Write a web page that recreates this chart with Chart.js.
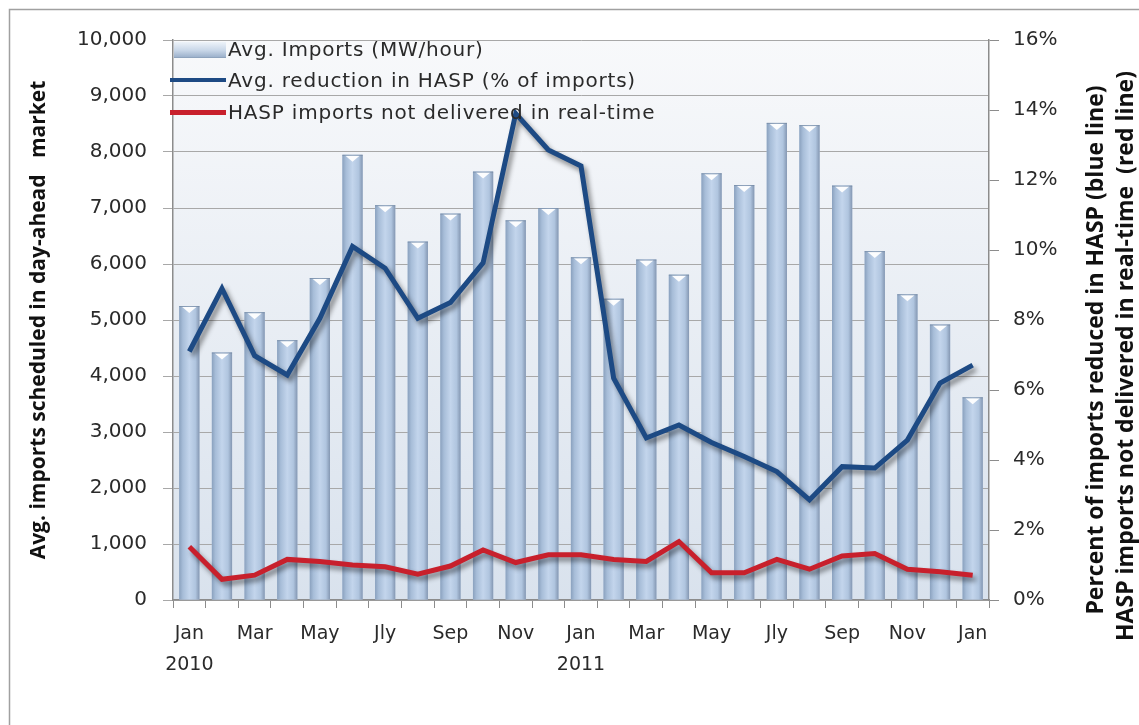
<!DOCTYPE html>
<html>
<head>
<meta charset="utf-8">
<script src="https://cdn.jsdelivr.net/npm/chart.js@4.4.1/dist/chart.umd.min.js"></script>
<style>
  html, body { margin: 0; padding: 0; background: #ffffff; }
  #wrap { position: relative; width: 1139px; height: 725px; overflow: hidden; }
  canvas { position: absolute; left: 0; top: 0; }
  .legend { position: absolute; left: 170px; top: 36px; font-family: "DejaVu Sans", sans-serif; font-size: 20px; letter-spacing: 0.8px; color: #2a2a2a; }
  .row { position: absolute; left: 0; height: 30px; white-space: nowrap; }
  .row span.txt { position: absolute; left: 58px; top: 0; line-height: 26px; }
  .sym-bar { position: absolute; left: 4px; top: 6px; width: 52px; height: 15px;
     background: linear-gradient(to bottom, #eef3f9 0%, #c9d7e8 55%, #9db2cc 100%); border-bottom: 1px solid #8ea3bd; }
  .sym-line { position: absolute; left: 0; width: 56px; height: 4px; }
  .ytitle { position: absolute; font-family: "Open Sans", sans-serif; font-weight: bold; font-size: 23px; color: #111;
     white-space: pre; transform: translate(-50%, -50%) rotate(-90deg); }
</style>
</head>
<body>
<div id="wrap">
  <canvas id="c" width="1139" height="725"></canvas>
  <div class="legend">
    <div class="row" style="top:0px"><div class="sym-bar"></div><span class="txt">Avg. Imports (MW/hour)</span></div>
    <div class="row" style="top:31px"><div class="sym-line" style="top:11px;background:#1d4a84;height:4px"></div><span class="txt">Avg. reduction in HASP (% of imports)</span></div>
    <div class="row" style="top:63px"><div class="sym-line" style="top:11px;background:#c8202c;height:5px"></div><span class="txt">HASP imports not delivered in real-time</span></div>
  </div>
  <div class="ytitle" style="left:1094px; top:350px;">Percent of imports reduced in HASP (blue line)</div>
  <div class="ytitle" style="left:1124px; top:356px;">HASP imports not delivered in real-time  (red line)</div>
</div>
<script>
// ---- Data ----
const categories = ['Jan 2010','Feb 2010','Mar 2010','Apr 2010','May 2010','Jun 2010','Jul 2010','Aug 2010','Sep 2010','Oct 2010','Nov 2010','Dec 2010',
                    'Jan 2011','Feb 2011','Mar 2011','Apr 2011','May 2011','Jun 2011','Jul 2011','Aug 2011','Sep 2011','Oct 2011','Nov 2011','Dec 2011','Jan 2012'];
const monthTickLabels = ['Jan','','Mar','','May','','Jly','','Sep','','Nov','','Jan','','Mar','','May','','Jly','','Sep','','Nov','','Jan'];
const yearTickLabels  = ['2010','','','','','','','','','','','','2011','','','','','','','','','','','',''];
const avgImports = [5250, 4420, 5140, 4640, 5750, 7950, 7050, 6400, 6900, 7650, 6780, 7000,
                    6120, 5380, 6080, 5810, 7620, 7410, 8520, 8480, 7400, 6230, 5460, 4920, 3620];
const haspReductionPct = [7.1, 8.9, 6.98, 6.43, 8.05, 10.1, 9.48, 8.05, 8.5, 9.63, 13.9, 12.86,
                          12.4, 6.34, 4.63, 5.0, 4.5, 4.1, 3.67, 2.86, 3.81, 3.77, 4.57, 6.2, 6.71];
const notDeliveredPct = [1.52, 0.59, 0.71, 1.16, 1.10, 1.0, 0.95, 0.74, 0.97, 1.43, 1.07, 1.29,
                         1.29, 1.16, 1.10, 1.67, 0.78, 0.78, 1.16, 0.88, 1.26, 1.33, 0.88, 0.81, 0.71];
const leftTicks = [0, 1000, 2000, 3000, 4000, 5000, 6000, 7000, 8000, 9000, 10000];
const rightTicks = [0, 2, 4, 6, 8, 10, 12, 14, 16];

const tickFont = { family: '"DejaVu Sans", sans-serif', size: 20 };
const axisGray = '#8c8c8c';

const decorPlugin = {
  id: 'decor',
  beforeDraw(chart) {
    const ctx = chart.ctx, a = chart.chartArea;
    ctx.save();
    ctx.fillStyle = '#ffffff';
    ctx.fillRect(0, 0, chart.width, chart.height);
    ctx.strokeStyle = '#a0a0a0';
    ctx.lineWidth = 1.5;
    ctx.strokeRect(9.5, 9.5, chart.width + 20, chart.height + 20);
    const g = ctx.createLinearGradient(0, a.top, 0, a.bottom);
    g.addColorStop(0, '#f8f9fb');
    g.addColorStop(1, '#d9e2ed');
    ctx.fillStyle = g;
    ctx.fillRect(a.left, a.top, a.right - a.left, a.bottom - a.top);
    ctx.restore();
  },
  beforeDatasetDraw(chart, args) {
    const ds = chart.data.datasets[args.index];
    chart.ctx.save();
    if (ds.type === 'line') {
      chart.ctx.shadowColor = 'rgba(0,0,0,0.45)';
      chart.ctx.shadowBlur = 5;
      chart.ctx.shadowOffsetX = 3;
      chart.ctx.shadowOffsetY = 4;
    }
  },
  afterDatasetDraw(chart, args) {
    const ctx = chart.ctx;
    ctx.restore();
    const ds = chart.data.datasets[args.index];
    if (ds.type !== 'bar') return;
    ctx.save();
    args.meta.data.forEach(el => {
      const w = el.width, l = el.x - w / 2, r = el.x + w / 2, top = el.y, base = el.base;
      const g = ctx.createLinearGradient(l, 0, r, 0);
      g.addColorStop(0, '#8aa1be');
      g.addColorStop(0.18, '#a7bdd8');
      g.addColorStop(0.5, '#c3d5ec');
      g.addColorStop(0.8, '#b0c5df');
      g.addColorStop(1, '#8497b2');
      ctx.fillStyle = g;
      ctx.fillRect(l, top, w, base - top);
      ctx.fillStyle = 'rgba(255,255,255,0.95)';
      ctx.beginPath();
      ctx.moveTo(l + 3, top + 1);
      ctx.lineTo(r - 3, top + 1);
      ctx.lineTo(el.x, top + 7);
      ctx.closePath();
      ctx.fill();
      ctx.strokeStyle = 'rgba(110,130,155,0.6)';
      ctx.lineWidth = 1;
      ctx.beginPath();
      ctx.moveTo(l, top + 0.5);
      ctx.lineTo(r, top + 0.5);
      ctx.stroke();
    });
    ctx.restore();
  }
};

new Chart(document.getElementById('c'), {
  data: {
    labels: categories,
    datasets: [
      { type: 'line', label: 'Avg. reduction in HASP (% of imports)', data: haspReductionPct, yAxisID: 'y1',
        borderColor: '#1d4a84', borderWidth: 5, pointRadius: 0, tension: 0, order: 1 },
      { type: 'line', label: 'HASP imports not delivered in real-time', data: notDeliveredPct, yAxisID: 'y1',
        borderColor: '#c8202c', borderWidth: 5, pointRadius: 0, tension: 0, order: 2 },
      { type: 'bar', label: 'Avg. Imports (MW/hour)', data: avgImports, yAxisID: 'y',
        backgroundColor: '#b9cce3', borderWidth: 0, barPercentage: 0.62, categoryPercentage: 1.0, order: 3 }
    ]
  },
  options: {
    responsive: false,
    animation: false,
    layout: { padding: { top: 40, left: 0, right: 0, bottom: 0 } },
    plugins: { legend: { display: false }, tooltip: { enabled: false } },
    scales: {
      x: {
        type: 'category',
        offset: true,
        afterFit(s) { s.height = 125; },
        border: { display: true, color: axisGray, width: 1.5 },
        grid: { display: true, offset: true, drawOnChartArea: false, drawTicks: true, tickLength: 8, color: axisGray },
        ticks: {
          autoSkip: false, maxRotation: 0, padding: 10, color: '#2a2a2a',
          font: { family: '"DejaVu Sans", sans-serif', size: 19, lineHeight: 1.65 },
          callback(v, i) { return yearTickLabels[i] ? [monthTickLabels[i], yearTickLabels[i]] : monthTickLabels[i]; }
        }
      },
      y: {
        position: 'left',
        min: 0, max: 10000,
        afterFit(s) { s.width = 173; },
        afterBuildTicks(s) { s.ticks = leftTicks.map(v => ({ value: v })); },
        border: { display: true, color: axisGray, width: 1.5 },
        grid: { color: '#a8a8a8', lineWidth: 1, tickLength: 10, drawTicks: true },
        ticks: { color: '#2a2a2a', font: tickFont, padding: 16,
                 callback(v) { return v.toLocaleString('en-US'); } },
        title: { display: true, text: 'Avg. imports scheduled in day-ahead   market', color: '#111',
                 font: { family: '"Open Sans", sans-serif', size: 21, weight: 'bold' }, padding: { top: 26 } }
      },
      y1: {
        position: 'right',
        min: 0, max: 16,
        afterFit(s) { s.width = 150; },
        afterBuildTicks(s) { s.ticks = rightTicks.map(v => ({ value: v })); },
        border: { display: true, color: axisGray, width: 1.5 },
        grid: { drawOnChartArea: false, drawTicks: true, tickLength: 10, color: axisGray },
        ticks: { color: '#2a2a2a', font: tickFont, padding: 14, callback(v) { return v + '%'; } }
      }
    }
  },
  plugins: [decorPlugin]
});
</script>
</body>
</html>
